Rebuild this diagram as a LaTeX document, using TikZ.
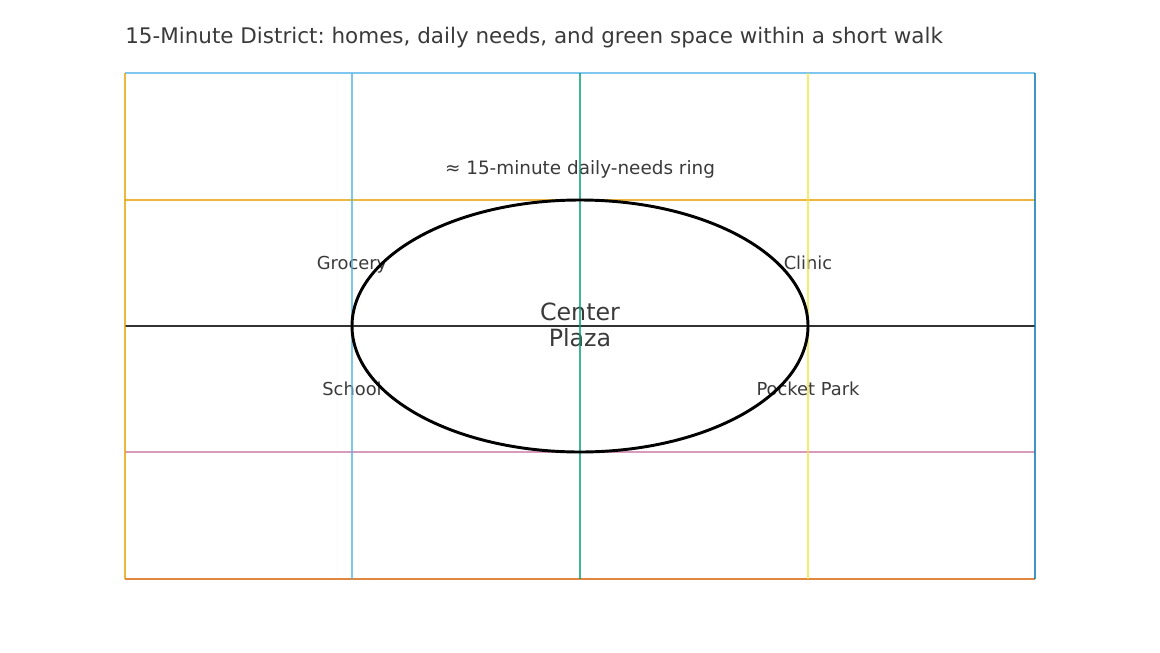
\documentclass[tikz,border=0pt]{standalone}
\usepackage{fontspec}
\setmainfont{DejaVu Sans}
\frenchspacing
\definecolor{txt}{HTML}{3A3A3A}
\definecolor{oiorange}{HTML}{E69F00}
\definecolor{oisky}{HTML}{56B4E9}
\definecolor{oigreen}{HTML}{009E73}
\definecolor{oiyellow}{HTML}{F0E442}
\definecolor{oiblue}{HTML}{0072B2}
\definecolor{oiverm}{HTML}{D55E00}
\definecolor{oipurple}{HTML}{CC79A7}
\tikzset{
  gridline/.style={line width=1.5pt, draw opacity=0.75},
  lbl/.style={text=txt, font=\fontsize{13.4}{15}\selectfont, inner sep=0pt, text height=9.8pt, text depth=0pt},
  ring/.style={draw=black, line width=2.2pt}
}
\begin{document}
\frenchspacing
\begin{tikzpicture}[x=0.75pt,y=-0.75pt]
\useasboundingbox (0,0) rectangle (1160,653);
% title
\node[lbl, anchor=west, font=\fontsize{16.1}{19}\selectfont\frenchspacing, text height=11.8pt] (title) at (125,36) {15-Minute District: homes, daily needs, and green space within a short walk};
% labels
\node[lbl, font=\fontsize{13.8}{16}\selectfont, text height=10.1pt] (ringlbl) at (580,168) {≈ 15-minute daily-needs ring};
\node[lbl] (grocery) at (352,263) {Grocery};
\node[lbl] (clinic) at (808,263) {Clinic};
\node[lbl] (school) at (352,389) {School};
\node[lbl] (park) at (808,389) {Pocket Park};
\node[text=txt, inner sep=0pt, font=\fontsize{17.8}{19.6}\selectfont, align=center] (plaza) at (580,325) {Center\\Plaza};
% grid lines
\draw[gridline, oisky] (125,73) -- (1035,73);
\draw[gridline, oiorange] (125,200) -- (1035,200);
\draw[gridline, black, draw opacity=0.8] (125,326) -- (1035,326);
\draw[gridline, oipurple] (125,452) -- (1035,452);
\draw[gridline, oiverm] (125,579) -- (1035,579);
\draw[gridline, oiorange] (125,73) -- (125,579);
\draw[gridline, oisky] (352,73) -- (352,579);
\draw[gridline, oigreen] (580,73) -- (580,579);
\draw[gridline, oiyellow] (808,73) -- (808,579);
\draw[gridline, oiblue] (1035,73) -- (1035,579);
% ring
\draw[ring] (580,326) ellipse [x radius=228, y radius=126];
\end{tikzpicture}
\end{document}
